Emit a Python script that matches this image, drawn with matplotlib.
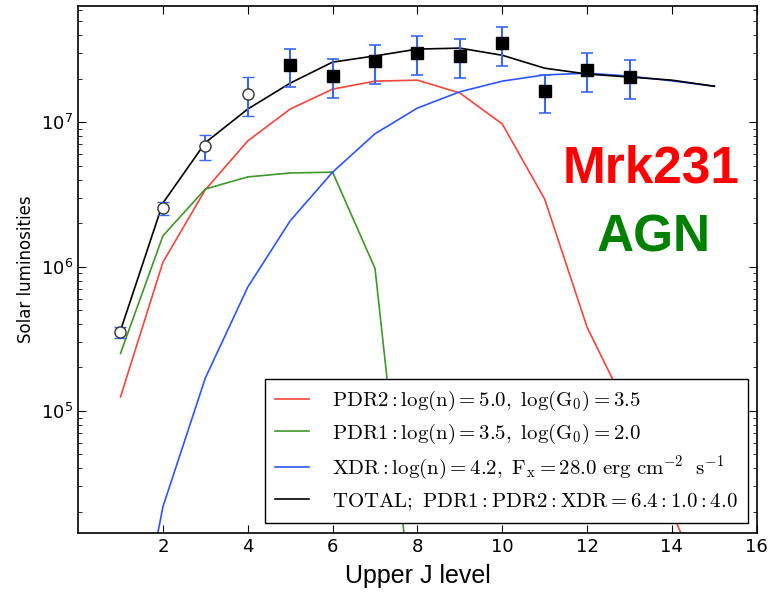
import numpy as np
import matplotlib
matplotlib.use("Agg")
import matplotlib.pyplot as plt

plt.rcParams["mathtext.fontset"] = "cm"

# CO ladder: upper J level
J = np.arange(1, 16)

# model components (solar luminosities)
pdr2 = [1.25e5, 1.07e6, 3.4e6, 7.4e6, 1.23e7, 1.69e7, 1.92e7, 1.95e7,
        1.59e7, 9.7e6, 2.93e6, 3.8e5, 9.6e4, 2.0e4, 4.0e3]
pdr1 = [2.5e5, 1.63e6, 3.44e6, 4.17e6, 4.44e6, 4.5e6, 9.7e5, 2.0e3,
        1.0e2, 5.0, 0.3, 0.02, 0.001, 1e-4, 1e-5]
xdr = [6.5e2, 2.17e4, 1.69e5, 7.2e5, 2.07e6, 4.5e6, 8.3e6, 1.25e7,
       1.62e7, 1.92e7, 2.12e7, 2.18e7, 2.08e7, 1.93e7, 1.77e7]
total = [3.6e5, 2.75e6, 7.2e6, 1.23e7, 1.86e7, 2.6e7, 2.87e7, 3.2e7,
         3.25e7, 2.9e7, 2.36e7, 2.15e7, 2.05e7, 1.95e7, 1.77e7]

# observed lines: open circles (J=1-4), filled squares (J=5-13)
J_open = [1, 2, 3, 4]
L_open = [3.52e5, 2.54e6, 6.82e6, 1.56e7]
lo_open = [3.2e5, 2.27e6, 5.46e6, 1.10e7]
hi_open = [3.81e5, 2.79e6, 8.13e6, 2.05e7]

J_fill = [5, 6, 7, 8, 9, 10, 11, 12, 13]
L_fill = [2.48e7, 2.08e7, 2.64e7, 3.0e7, 2.86e7, 3.52e7, 1.64e7, 2.29e7, 2.05e7]
lo_fill = [1.75e7, 1.47e7, 1.83e7, 2.11e7, 2.01e7, 2.44e7, 1.15e7, 1.61e7, 1.44e7]
hi_fill = [3.20e7, 2.73e7, 3.41e7, 3.94e7, 3.75e7, 4.54e7, 2.11e7, 3.0e7, 2.68e7]

labels = [
    r"$\mathrm{PDR2:log(n)=5.0,\ log(G_0)=3.5}$",
    r"$\mathrm{PDR1:log(n)=3.5,\ log(G_0)=2.0}$",
    r"$\mathrm{XDR:log(n)=4.2,\ F_x=28.0\ erg\ cm^{-2}\ \ s^{-1}}$",
    r"$\mathrm{TOTAL;\ PDR1:PDR2:XDR=6.4:1.0:4.0}$",
]


def yerr(val, lo, hi):
    val = np.array(val)
    return [val - np.array(lo), np.array(hi) - val]


fig = plt.figure(figsize=(7.73, 5.92), dpi=100)
ax = fig.add_axes([0.101, 0.0997, 0.878, 0.890])

ax.plot(J, pdr2, color="#f0463c", lw=1.2, label=labels[0])
ax.plot(J, pdr1, color="#3f962a", lw=1.2, label=labels[1])
ax.plot(J, xdr, color="#2d55ff", lw=1.2, label=labels[2])
ax.plot(J, total, color="black", lw=1.2, label=labels[3])

ax.errorbar(J_open, L_open, yerr=yerr(L_open, lo_open, hi_open), fmt="o",
            mfc="white", mec="#333333", ms=8, mew=1.0, ecolor="#3a66f0",
            elinewidth=1.5, capsize=4, capthick=1.2, zorder=5)
ax.errorbar(J_fill, L_fill, yerr=yerr(L_fill, lo_fill, hi_fill), fmt="s",
            mfc="black", mec="black", ms=8, ecolor="#3a66f0",
            elinewidth=1.5, capsize=4, capthick=1.2, zorder=5)

ax.set_yscale("log")
ax.set_xlim(0, 16)
ax.set_ylim(1.43e4, 6.35e7)
ax.set_xticks(range(2, 17, 2))
ax.tick_params(which="both", direction="in", top=True, right=True, labelsize=13)
ax.tick_params(which="major", length=6)
ax.tick_params(which="minor", length=3)
for s in ax.spines.values():
    s.set_linewidth(1.2)

ax.set_xlabel("Upper J level", fontsize=18, family="Liberation Sans", labelpad=6)
ax.set_ylabel("Solar luminosities", fontsize=12, labelpad=4)

ax.text(0.844, 0.691, "Mrk231", transform=ax.transAxes, color="red",
        fontsize=37, fontweight="bold", family="Liberation Sans",
        ha="center", va="center")
ax.text(0.848, 0.560, "AGN", transform=ax.transAxes, color="green",
        fontsize=37, fontweight="bold", family="Liberation Sans",
        ha="center", va="center")

leg = ax.legend(loc="lower right", bbox_to_anchor=(0.987, 0.019),
                borderaxespad=0, fontsize=15, fancybox=False, borderpad=0.5,
                handlelength=1.6, handletextpad=1.1, labelspacing=0.4)
leg.get_frame().set_edgecolor("black")
leg.get_frame().set_linewidth(1.0)
leg.get_frame().set_alpha(1)

fig.savefig("out.png", dpi=100)
